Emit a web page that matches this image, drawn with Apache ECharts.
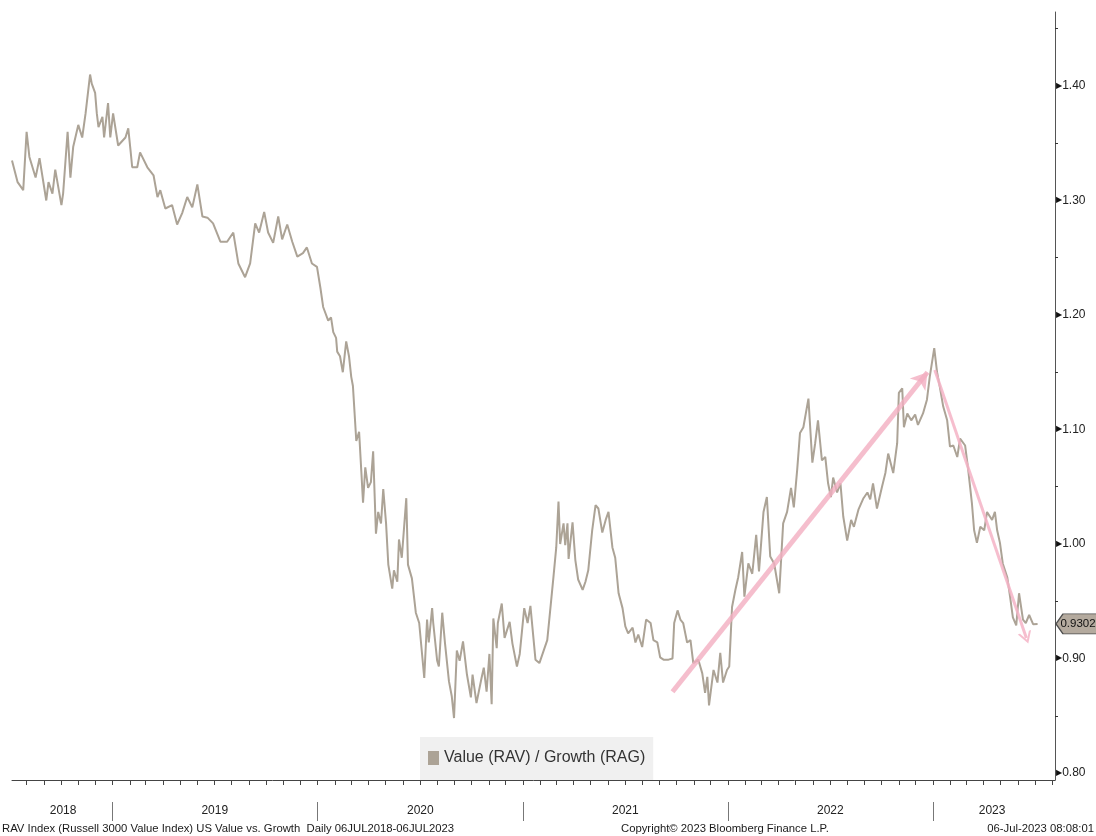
<!DOCTYPE html>
<html>
<head>
<meta charset="utf-8">
<title>Value (RAV) / Growth (RAG)</title>
<script src="https://cdn.jsdelivr.net/npm/echarts@6/dist/echarts.min.js"></script>
<style>
  html, body { margin: 0; padding: 0; background: #ffffff; }
  #chart { width: 1096px; height: 836px; }
</style>
</head>
<body>
<div id="chart"></div>
<script>
// Russell 3000 Value / Russell 3000 Growth price ratio, Jul 2018 - Jul 2023
const d2018 = ['2018-07-06','2018-07-16','2018-07-26','2018-08-01','2018-08-06','2018-08-17','2018-08-24','2018-09-05','2018-09-09','2018-09-16','2018-09-21','2018-10-02','2018-10-05','2018-10-13','2018-10-18','2018-10-23','2018-11-01','2018-11-08','2018-11-14','2018-11-22','2018-11-25','2018-12-01','2018-12-04','2018-12-07','2018-12-14','2018-12-17','2018-12-24','2018-12-28'];
const v2018 = [1.335,1.316,1.309,1.360,1.338,1.320,1.337,1.300,1.316,1.306,1.327,1.296,1.306,1.360,1.320,1.347,1.366,1.355,1.376,1.410,1.402,1.394,1.376,1.364,1.373,1.355,1.385,1.355];

const d2019 = ['2019-01-02','2019-01-11','2019-01-24','2019-01-29','2019-02-02','2019-02-05','2019-02-14','2019-02-19','2019-03-04','2019-03-15','2019-03-22','2019-03-27','2019-04-05','2019-04-17','2019-04-26','2019-05-05','2019-05-14','2019-05-23','2019-06-01','2019-06-10','2019-06-19','2019-06-29','2019-07-12','2019-07-24','2019-08-04','2019-08-13','2019-08-25','2019-09-03','2019-09-12','2019-09-19','2019-09-28','2019-10-05','2019-10-14','2019-10-23','2019-10-30','2019-11-08','2019-11-17','2019-11-26','2019-12-06','2019-12-13','2019-12-22','2019-12-31'];
const v2019 = [1.376,1.348,1.355,1.363,1.344,1.329,1.329,1.342,1.329,1.322,1.303,1.309,1.293,1.296,1.279,1.289,1.303,1.294,1.314,1.286,1.285,1.280,1.264,1.264,1.272,1.245,1.233,1.245,1.280,1.272,1.290,1.272,1.263,1.286,1.266,1.279,1.264,1.251,1.254,1.259,1.245,1.242];

const d2020 = ['2020-01-06','2020-01-11','2020-01-20','2020-01-25','2020-01-29','2020-02-03','2020-02-05','2020-02-10','2020-02-15','2020-02-21','2020-02-26','2020-03-01','2020-03-04','2020-03-10','2020-03-15','2020-03-19','2020-03-22','2020-03-26','2020-03-31','2020-04-05','2020-04-09','2020-04-14','2020-04-18','2020-04-23','2020-04-27','2020-05-02','2020-05-06','2020-05-13','2020-05-16','2020-05-22','2020-05-25','2020-05-30','2020-06-07','2020-06-10','2020-06-17','2020-06-24','2020-06-30','2020-07-09','2020-07-14','2020-07-17','2020-07-23','2020-07-25','2020-08-01','2020-08-04','2020-08-10','2020-08-15','2020-08-22','2020-08-27','2020-08-31','2020-09-05','2020-09-10','2020-09-16','2020-09-23','2020-09-30','2020-10-03','2020-10-10','2020-10-19','2020-10-23','2020-10-28','2020-11-02','2020-11-06','2020-11-09','2020-11-15','2020-11-17','2020-11-24','2020-11-29','2020-12-08','2020-12-13','2020-12-21','2020-12-26'];
const v2020 = [1.224,1.207,1.195,1.198,1.185,1.180,1.168,1.164,1.150,1.177,1.164,1.146,1.138,1.090,1.098,1.063,1.036,1.067,1.049,1.054,1.081,1.009,1.028,1.018,1.048,1.018,0.982,0.961,0.977,0.967,1.004,0.988,1.040,0.982,0.970,0.940,0.931,0.883,0.934,0.914,0.944,0.931,0.898,0.893,0.940,0.913,0.880,0.867,0.848,0.907,0.898,0.915,0.886,0.866,0.886,0.861,0.883,0.892,0.871,0.904,0.860,0.935,0.909,0.931,0.948,0.918,0.932,0.913,0.893,0.904];

const d2021 = ['2021-01-03','2021-01-09','2021-01-14','2021-01-23','2021-01-30','2021-02-06','2021-02-13','2021-02-20','2021-02-24','2021-03-01','2021-03-05','2021-03-08','2021-03-14','2021-03-17','2021-03-21','2021-03-23','2021-03-30','2021-04-04','2021-04-09','2021-04-17','2021-04-22','2021-04-27','2021-05-04','2021-05-10','2021-05-15','2021-05-22','2021-05-28','2021-06-02','2021-06-09','2021-06-14','2021-06-20','2021-06-27','2021-07-02','2021-07-07','2021-07-15','2021-07-20','2021-07-25','2021-08-01','2021-08-08','2021-08-16','2021-08-21','2021-08-28','2021-09-02','2021-09-08','2021-09-17','2021-09-24','2021-09-27','2021-10-03','2021-10-08','2021-10-13','2021-10-20','2021-10-26','2021-10-31','2021-11-09','2021-11-16','2021-11-21','2021-11-25','2021-11-28','2021-12-06','2021-12-13','2021-12-18','2021-12-23','2021-12-30'];
const v2021 = [0.944,0.931,0.946,0.899,0.896,0.906,0.916,0.951,0.971,0.997,1.037,1.000,1.018,0.999,1.018,0.987,1.019,0.986,0.969,0.960,0.967,0.977,1.012,1.034,1.031,1.010,1.021,1.028,0.997,0.988,0.957,0.944,0.928,0.922,0.927,0.914,0.921,0.910,0.934,0.931,0.916,0.914,0.901,0.899,0.899,0.900,0.931,0.942,0.934,0.931,0.914,0.916,0.896,0.899,0.887,0.870,0.884,0.859,0.890,0.879,0.905,0.879,0.890];

const d2022 = ['2022-01-03','2022-01-08','2022-01-14','2022-01-19','2022-01-26','2022-01-30','2022-02-06','2022-02-13','2022-02-20','2022-02-25','2022-03-05','2022-03-11','2022-03-17','2022-03-24','2022-04-02','2022-04-09','2022-04-16','2022-04-23','2022-04-28','2022-05-04','2022-05-09','2022-05-15','2022-05-24','2022-05-31','2022-06-05','2022-06-10','2022-06-17','2022-06-23','2022-06-28','2022-07-03','2022-07-07','2022-07-14','2022-07-20','2022-07-25','2022-08-01','2022-08-08','2022-08-13','2022-08-21','2022-08-30','2022-09-06','2022-09-11','2022-09-16','2022-09-23','2022-10-02','2022-10-08','2022-10-13','2022-10-22','2022-10-29','2022-11-01','2022-11-07','2022-11-10','2022-11-16','2022-11-23','2022-11-30','2022-12-05','2022-12-14','2022-12-21','2022-12-26'];
const v2022 = [0.893,0.945,0.960,0.971,0.993,0.954,0.983,0.974,1.008,0.976,1.028,1.041,0.989,0.983,0.957,1.018,1.028,1.049,1.032,1.065,1.097,1.102,1.127,1.071,1.088,1.108,1.073,1.076,1.053,1.041,1.058,1.045,1.053,1.024,1.003,1.021,1.015,1.030,1.040,1.045,1.039,1.053,1.031,1.050,1.062,1.079,1.062,1.088,1.132,1.136,1.102,1.114,1.108,1.113,1.104,1.114,1.126,1.146];

const d2023 = ['2023-01-03','2023-01-08','2023-01-13','2023-01-19','2023-01-26','2023-01-31','2023-02-06','2023-02-13','2023-02-18','2023-02-27','2023-03-04','2023-03-11','2023-03-15','2023-03-20','2023-03-26','2023-04-02','2023-04-07','2023-04-16','2023-04-21','2023-04-25','2023-04-30','2023-05-05','2023-05-13','2023-05-18','2023-05-23','2023-05-29','2023-06-03','2023-06-10','2023-06-15','2023-06-21','2023-06-28','2023-07-06'];
const v2023 = [1.171,1.150,1.137,1.120,1.108,1.085,1.086,1.076,1.092,1.086,1.067,1.036,1.012,1.001,1.015,1.012,1.028,1.021,1.028,1.012,1.001,0.983,0.971,0.954,0.936,0.929,0.957,0.934,0.931,0.938,0.930,0.9302];

// Trend arrows: [start date, start value, end date, end value]
const upTrend = ['2021-09-24', 0.871, '2022-12-22', 1.150];
const downTrend = ['2023-01-04', 1.152, '2023-06-16', 0.918];

// Axis ticks and labels
const yLabelValues = [0.80, 0.90, 1.00, 1.10, 1.20, 1.30, 1.40];
const yMinorValues = [0.85, 0.95, 1.05, 1.15, 1.25, 1.35, 1.45];
const yearBreaks = ['2019-01-01','2020-01-01','2021-01-01','2022-01-01','2023-01-01'];
const yearLabelDates = ['2018-10-05','2019-07-02','2020-07-02','2021-07-02','2022-07-02','2023-04-16'];

const seriesName = 'Value (RAV) / Growth (RAG)';
const footLeft = 'RAV Index (Russell 3000 Value Index) US Value vs. Growth  Daily 06JUL2018-06JUL2023';
const footMid = 'Copyright\u00A9 2023 Bloomberg Finance L.P.';
const footRight = '06-Jul-2023 08:08:01';

const FONT = "'Liberation Sans', Arial, sans-serif";

// date string -> local-time timestamp (ms), used as the x value
function ts(s) {
  const p = s.split('-').map(Number);
  return new Date(p[0], p[1] - 1, p[2]).getTime();
}

const xMin = ts('2018-07-06');
const xMax = ts('2023-08-06');

const allDates = [].concat(d2018, d2019, d2020, d2021, d2022, d2023);
const allVals = [].concat(v2018, v2019, v2020, v2021, v2022, v2023);
const lineData = allDates.map((d, i) => [ts(d), allVals[i]]);
const lastVal = allVals[allVals.length - 1];

// monthly ticks along the date axis
const monthStarts = [];
for (let y = 2018; y <= 2023; y++) {
  for (let m = 0; m < 12; m++) {
    const t = new Date(y, m, 1).getTime();
    if (t > xMin && t <= xMax) monthStarts.push(t);
  }
}

const footStyle = { fontFamily: FONT, fontSize: 11.3, fontWeight: 'normal', color: '#1a1a1a' };

const chart = echarts.init(document.getElementById('chart'), null, { renderer: 'canvas' });

chart.setOption({
  animation: false,
  backgroundColor: '#ffffff',
  title: [
    { text: footLeft, left: 2, top: 823, padding: 0, textStyle: footStyle },
    { text: footMid, left: 621, top: 823, padding: 0, textStyle: footStyle },
    { text: footRight, right: 2, top: 823, padding: 0, textStyle: footStyle }
  ],
  legend: {
    left: 420, top: 737,
    backgroundColor: '#f0f0f0',
    padding: [13, 8, 14, 8],
    icon: 'rect', itemWidth: 11, itemHeight: 14,
    selectedMode: false,
    textStyle: { fontFamily: FONT, fontSize: 16, color: '#333333' },
    data: [seriesName]
  },
  grid: { left: 12, right: 41, top: 12, bottom: 56, containLabel: false },
  xAxis: [
    {
      type: 'value', min: xMin, max: xMax,
      axisLine: { show: true, lineStyle: { color: '#444444', width: 1 } },
      axisTick: { show: true, customValues: monthStarts, length: 5, lineStyle: { color: '#444444' } },
      axisLabel: { show: false },
      splitLine: { show: false }
    },
    {
      type: 'value', min: xMin, max: xMax, position: 'bottom', offset: 22,
      axisLine: { show: false },
      axisTick: { show: true, customValues: yearBreaks.map(ts), length: 19, lineStyle: { color: '#777777' } },
      axisLabel: {
        show: true, customValues: yearLabelDates.map(ts), margin: 3,
        fontFamily: FONT, fontSize: 12, color: '#222222',
        formatter: v => String(new Date(v).getFullYear())
      },
      splitLine: { show: false }
    }
  ],
  yAxis: {
    type: 'value', position: 'right',
    min: 0.7939, max: 1.4646,
    axisLine: { show: true, lineStyle: { color: '#555555', width: 1 } },
    axisTick: { show: true, customValues: yMinorValues, length: 3, lineStyle: { color: '#333333' } },
    axisLabel: {
      customValues: yLabelValues, margin: 1,
      formatter: v => '{t|\u25B6}{v|' + v.toFixed(2) + '}',
      rich: {
        t: { fontFamily: 'DejaVu Sans', fontSize: 8, color: '#111111', padding: [0, 0, 1, 0] },
        v: { fontFamily: FONT, fontSize: 12, color: '#222222' }
      }
    },
    splitLine: { show: false }
  },
  series: [
    {
      name: seriesName,
      type: 'line',
      xAxisIndex: 0,
      showSymbol: false,
      symbol: 'none',
      clip: false,
      lineStyle: { color: '#aca396', width: 2 },
      itemStyle: { color: '#aca396' },
      data: lineData,
      markLine: {
        silent: true,
        animation: false,
        label: { show: false },
        symbol: ['none', 'arrow'],
        data: [
          [
            { coord: [ts(upTrend[0]), upTrend[1]], symbol: 'none',
              lineStyle: { color: '#f2aec1', width: 5, type: 'solid', opacity: 0.8 } },
            { coord: [ts(upTrend[2]), upTrend[3]], symbol: 'arrow', symbolSize: [15, 16] }
          ],
          [
            { coord: [ts(downTrend[0]), downTrend[1]], symbol: 'none',
              lineStyle: { color: '#f4b3c5', width: 3, type: 'solid', opacity: 0.85 } },
            { coord: [ts(downTrend[2]), downTrend[3]],
              symbol: 'path://M0,10 L5,0 L10,10 L8.4,10 L5,3.4 L1.6,10 Z', symbolSize: [14, 12] }
          ]
        ]
      },
      markPoint: {
        silent: true,
        symbol: 'path://M0,10 L7,0 L46,0 L46,20 L7,20 Z',
        symbolSize: [46, 20],
        symbolOffset: [24, 0],
        symbolKeepAspect: false,
        itemStyle: { color: '#b4aa9e', borderColor: '#4d4d4d', borderWidth: 1 },
        label: {
          show: true, position: 'inside', offset: [-1, 0],
          fontFamily: FONT, fontSize: 11.5, color: '#111111',
          formatter: p => Number(p.value).toFixed(4)
        },
        data: [{ coord: [xMax, lastVal], value: lastVal }]
      }
    }
  ]
});
</script>
</body>
</html>
